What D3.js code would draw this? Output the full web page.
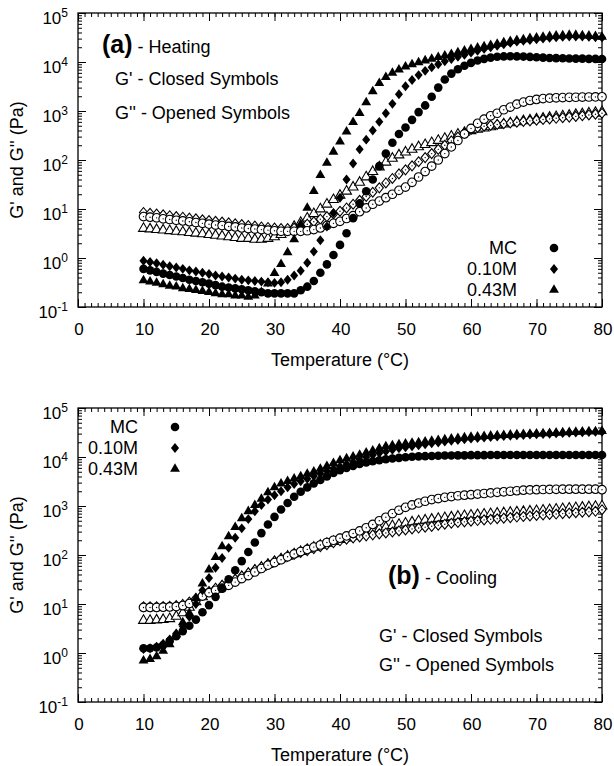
<!DOCTYPE html>
<html>
<head>
<meta charset="utf-8">
<script src="https://cdn.jsdelivr.net/npm/d3@7"></script>
<style>
  body { margin: 0; background: #fff; }
  text { font-family: "Liberation Sans", Arial, sans-serif; fill: #000; }
</style>
</head>
<body>
<svg id="chart" width="614" height="766"></svg>
<script>
// temperature (°C) of each measured point
const temperature = [10,11,12,13,14,15,16,17,18,19,20,21,22,23,24,25,26,27,28,29,
  30,31,32,33,34,35,36,37,38,39,40,41,42,43,44,45,46,47,48,49,
  50,51,52,53,54,55,56,57,58,59,60,61,62,63,64,65,66,67,68,69,
  70,71,72,73,74,75,76,77,78,79,80];

// (a) heating, G' (Pa)
const heatMC_G1 = [0.60,0.56,0.52,0.48,0.45,0.42,0.39,0.36,0.34,0.32,
  0.30,0.28,0.26,0.25,0.24,0.23,0.22,0.21,0.20,0.19,
  0.19,0.19,0.19,0.19,0.22,0.26,0.34,0.50,0.74,1.15,
  1.85,3.2,6.5,13,23,40,75,135,225,340,
  460,660,950,1300,1950,3000,4400,5800,7100,8400,
  9600,10700,11600,12300,12800,13000,13100,13000,12900,12700,
  12500,12300,12100,12000,11900,11800,11700,11700,11600,11600,
  11500];
const heat010_G1 = [0.88,0.83,0.78,0.73,0.68,0.64,0.60,0.56,0.53,0.50,
  0.47,0.44,0.42,0.40,0.38,0.36,0.35,0.34,0.33,0.32,
  0.31,0.32,0.36,0.44,0.55,0.80,1.35,2.3,4.4,8.3,
  17,40,85,165,260,400,600,900,1400,2200,
  3200,4300,5400,6600,7800,9000,10300,11500,12800,14000,
  15500,17000,18500,20000,21500,23000,24500,26000,27000,28000,
  29000,30000,31000,32000,32500,33000,33000,33000,32500,32000,
  31500];
const heat043_G1 = [0.35,0.33,0.31,0.29,0.27,0.26,0.24,0.23,0.22,0.21,
  0.20,0.19,0.18,0.18,0.17,0.17,0.16,0.17,0.20,0.30,
  0.49,0.75,1.3,2.4,4.9,10.5,23,49,87,147,
  236,380,590,900,1500,2500,3700,4900,6000,7000,
  8000,8900,9800,10700,11600,12500,13400,14500,15700,17000,
  18300,19500,20700,22000,23500,25000,26500,28000,29000,30500,
  31500,32500,33500,34500,35000,35500,35500,35000,34500,33500,
  32500];

// (a) heating, G'' (Pa)
const heatMC_G2 = [7.0,6.8,6.6,6.3,6.1,5.9,5.7,5.5,5.3,5.1,
  4.9,4.7,4.6,4.4,4.3,4.1,4.0,3.9,3.8,3.7,
  3.6,3.5,3.5,3.5,3.5,3.6,3.8,4.1,4.6,5.1,
  5.6,6.4,7.3,8.8,10.5,12.5,14.5,17,20,24,
  28,35,45,58,75,100,135,185,250,340,
  440,560,680,800,900,1060,1200,1380,1520,1640,
  1720,1790,1830,1860,1880,1900,1910,1920,1930,1940,
  1950];
const heat010_G2 = [8.5,8.2,7.9,7.6,7.3,7.0,6.8,6.5,6.3,6.0,
  5.8,5.6,5.4,5.2,5.0,4.8,4.6,4.5,4.3,4.2,
  4.1,4.0,4.0,4.1,4.4,4.9,5.5,6.2,7.0,7.9,
  9.0,10.5,12.5,15,18,22,27,34,42,52,
  63,76,92,112,135,165,200,245,295,350,
  420,460,490,510,530,550,570,590,610,630,
  650,670,690,710,730,750,775,800,830,860,
  900];
const heat043_G2 = [4.0,3.9,3.8,3.7,3.6,3.5,3.4,3.3,3.2,3.1,
  3.0,2.9,2.8,2.7,2.6,2.5,2.5,2.4,2.4,2.5,
  2.7,3.0,3.6,4.4,5.3,6.5,8.0,10,12.5,15.5,
  19,23,28,35,45,58,72,90,108,126,
  145,165,185,205,225,250,275,305,335,365,
  395,420,445,475,510,540,570,600,630,655,
  685,710,740,765,790,815,845,875,905,935,
  965];

// (b) cooling, G' (Pa)
const coolMC_G1 = [1.25,1.25,1.3,1.45,1.75,2.2,2.8,3.6,4.8,6.8,
  9.5,14,21,32,49,75,115,180,280,420,
  600,850,1150,1550,1950,2400,2900,3400,4000,4700,
  5400,6000,6600,7200,7700,8200,8600,9000,9300,9600,
  9900,10100,10300,10400,10500,10600,10700,10700,10800,10800,
  10900,10900,10900,11000,11000,11000,11000,11000,11000,11000,
  11000,11000,11000,11000,11000,11000,11000,11000,11000,11000,
  11000];
const cool010_G1 = [1.2,1.25,1.35,1.55,1.9,2.5,3.5,5.5,10,19,
  34,55,87,140,225,350,540,780,1050,1350,
  1660,2000,2400,2800,3200,3600,4100,4600,5200,5800,
  6400,7100,7900,8800,10000,11000,12000,13000,14000,15000,
  15800,16600,17400,18200,19000,19800,20600,21400,22200,23000,
  23700,24400,25000,25600,26200,26700,27200,27700,28200,28700,
  29100,29500,29900,30300,30700,31100,31500,31900,32200,32500,
  32800];
const cool043_G1 = [0.7,0.75,0.85,1.1,1.5,2.4,4.2,6.5,13,26,
  50,90,150,240,370,560,780,1040,1400,1900,
  2400,2850,3200,3600,4000,4500,5000,5700,6500,7500,
  8500,9300,10200,11000,12300,13500,15000,16500,17300,18000,
  18700,19300,19900,20500,21200,22000,22800,23600,24300,25000,
  25600,26100,26600,27100,27600,28000,28400,28800,29200,29600,
  30000,30400,30800,31200,31600,32000,32400,32800,33100,33400,
  33700];

// (b) cooling, G'' (Pa)
const coolMC_G2 = [8.5,8.5,8.5,8.6,8.7,8.9,9.3,10.2,12,14.5,
  17,19,21,24,28,33,38,45,53,62,
  70,80,92,105,118,130,145,160,180,200,
  220,245,275,310,360,420,500,590,700,820,
  940,1050,1150,1250,1350,1420,1500,1560,1620,1660,
  1700,1750,1800,1850,1900,1950,2000,2050,2100,2130,
  2150,2170,2180,2190,2200,2200,2200,2200,2200,2200,
  2150];
const cool010_G2 = [8.8,8.8,8.8,8.9,9.0,9.3,9.8,11,13,15.5,
  18,21,24,28,32,37,43,50,57,65,
  75,84,93,103,113,123,135,148,162,178,
  195,210,222,234,246,258,270,282,295,310,
  325,340,355,370,385,405,425,445,460,475,
  490,505,520,535,550,565,580,595,610,625,
  640,655,670,685,700,715,730,745,760,780,
  840];
const cool043_G2 = [4.6,4.6,4.7,4.8,5.0,5.6,6.6,8.5,11,14,
  17,20,23,27,31,36,42,49,56,64,
  73,83,94,105,117,130,143,157,172,188,
  205,222,240,260,290,315,340,370,395,420,
  445,470,495,515,535,555,575,595,615,635,
  650,665,680,695,710,725,740,755,770,785,
  800,820,840,860,880,900,920,940,960,980,
  1000];

const samples = ["MC", "0.10M", "0.43M"];
const xTicks = [0, 10, 20, 30, 40, 50, 60, 70, 80];
const yTicks = [0.1, 1, 10, 100, 1000, 10000, 100000];
const yExponents = ["-1", "0", "1", "2", "3", "4", "5"];
const xTitle = "Temperature (°C)";
const yTitle = "G' and G'' (Pa)";
const noteClosed = "G' - Closed Symbols";
const noteOpened = "G'' - Opened Symbols";

///////////////////////////////////////////////////////////////

const svg = d3.select("#chart");
const plotH = 294;
const x = d3.scaleLinear().domain([0, 80]).range([78, 602]);

// diamond a bit wider than d3's own
const diamondShape = {
  draw(ctx, size) {
    const k = Math.sqrt(size / 1.98);
    const w = 0.9 * k, h = 1.1 * k;
    ctx.moveTo(0, -h);
    ctx.lineTo(w, 0);
    ctx.lineTo(0, h);
    ctx.lineTo(-w, 0);
    ctx.closePath();
  }
};
const shapes = [d3.symbolCircle, diamondShape, d3.symbolTriangle];
const sizes = [58, 40, 42];
const symbolPath = i => d3.symbol().type(shapes[i]).size(sizes[i])();

function drawPanel(top, g1Series, g2Series, opts) {
  const y = d3.scaleLog().domain([0.1, 1e5]).range([top + plotH, top]);
  const g = svg.append("g");
  const minorY = [];
  yTicks.slice(0, -1).forEach(d => {
    for (let m = 2; m <= 9; m++) minorY.push(d * m);
  });
  const minorX = d3.range(0, 81, 1);

  // ticks, all pointing inward
  const axes = [
    [d3.axisBottom(x).tickValues(xTicks).tickSize(-8), `translate(0,${top + plotH})`],
    [d3.axisBottom(x).tickValues(minorX).tickSize(-4), `translate(0,${top + plotH})`],
    [d3.axisTop(x).tickValues(xTicks).tickSize(-8), `translate(0,${top})`],
    [d3.axisTop(x).tickValues(minorX).tickSize(-4), `translate(0,${top})`],
    [d3.axisLeft(y).tickValues(yTicks).tickSize(-8), `translate(78,0)`],
    [d3.axisLeft(y).tickValues(minorY).tickSize(-4), `translate(78,0)`],
    [d3.axisRight(y).tickValues(yTicks).tickSize(-8), `translate(602,0)`],
    [d3.axisRight(y).tickValues(minorY).tickSize(-4), `translate(602,0)`]
  ];
  axes.forEach(([axis, tr]) => {
    const a = g.append("g").attr("transform", tr).call(axis.tickFormat(""));
    a.select(".domain").remove();
    a.selectAll("line").attr("stroke", "#000").attr("stroke-width", 1);
  });

  g.append("rect")
    .attr("x", 78).attr("y", top)
    .attr("width", 524).attr("height", plotH)
    .attr("fill", "none").attr("stroke", "#000").attr("stroke-width", 1.3);

  // x tick labels
  g.selectAll(".xlab").data(xTicks).enter().append("text")
    .attr("x", d => x(d) + 1).attr("y", top + plotH + 28)
    .attr("text-anchor", "middle").attr("font-size", 17)
    .text(d => d);

  // y tick labels as powers of ten
  const yl = g.selectAll(".ylab").data(yTicks).enter().append("text")
    .attr("x", 68).attr("y", d => y(d) + 11)
    .attr("text-anchor", "end").attr("font-size", 17);
  yl.append("tspan").text("10");
  yl.append("tspan").attr("dy", -7).attr("font-size", 12)
    .text((d, i) => yExponents[i]);

  g.append("text")
    .attr("x", 340).attr("y", top + plotH + 59)
    .attr("text-anchor", "middle").attr("font-size", 18)
    .text(xTitle);
  g.append("text")
    .attr("transform", `translate(23,${top + plotH / 2}) rotate(-90)`)
    .attr("text-anchor", "middle").attr("font-size", 18)
    .text(yTitle);

  // G'' open symbols underneath
  [2, 1, 0].forEach(i => {
    const pts = temperature.map((t, j) => ({ t, v: g2Series[i][j] }));
    const s = g.append("g").selectAll("g").data(pts).enter().append("g")
      .attr("transform", d => `translate(${x(d.t)},${y(d.v)})`);
    s.append("path").attr("d", symbolPath(i))
      .attr("fill", "#fff").attr("stroke", "#000").attr("stroke-width", 1.1);
    if (i < 2) s.append("circle").attr("r", 0.7).attr("fill", "#000");
  });

  // G' closed symbols
  [0, 1, 2].forEach(i => {
    const pts = temperature.map((t, j) => ({ t, v: g1Series[i][j] }));
    g.append("g").selectAll("path").data(pts).enter().append("path")
      .attr("transform", d => `translate(${x(d.t)},${y(d.v)})`)
      .attr("d", symbolPath(i))
      .attr("fill", "#000");
  });

  // legend
  samples.forEach((name, i) => {
    const by = top + opts.legendY + i * 21;
    g.append("text").attr("x", opts.legendX).attr("y", by)
      .attr("text-anchor", "end").attr("font-size", 18).text(name);
    g.append("path").attr("transform", `translate(${opts.legendX + 37},${by - 6})`)
      .attr("d", symbolPath(i)).attr("fill", "#000");
  });

  // annotations
  const title = g.append("text")
    .attr("x", opts.labelX).attr("y", top + opts.labelY);
  title.append("tspan").attr("font-size", 25).attr("font-weight", "bold").text(opts.tag);
  title.append("tspan").attr("font-size", 18).attr("dx", 5).text(opts.mode);
  g.append("text").attr("x", opts.noteX).attr("y", top + opts.noteY)
    .attr("font-size", 18).text(noteClosed);
  g.append("text").attr("x", opts.noteX).attr("y", top + opts.noteY + opts.noteGap)
    .attr("font-size", 18).text(noteOpened);
}

drawPanel(13,
  [heatMC_G1, heat010_G1, heat043_G1],
  [heatMC_G2, heat010_G2, heat043_G2],
  { legendX: 517, legendY: 241, labelX: 102, labelY: 40, tag: "(a)", mode: "- Heating",
    noteX: 115, noteY: 72, noteGap: 34 });

drawPanel(408,
  [coolMC_G1, cool010_G1, cool043_G1],
  [coolMC_G2, cool010_G2, cool043_G2],
  { legendX: 138, legendY: 25, labelX: 388, labelY: 176, tag: "(b)", mode: "- Cooling",
    noteX: 379, noteY: 234, noteGap: 29 });
</script>
</body>
</html>
